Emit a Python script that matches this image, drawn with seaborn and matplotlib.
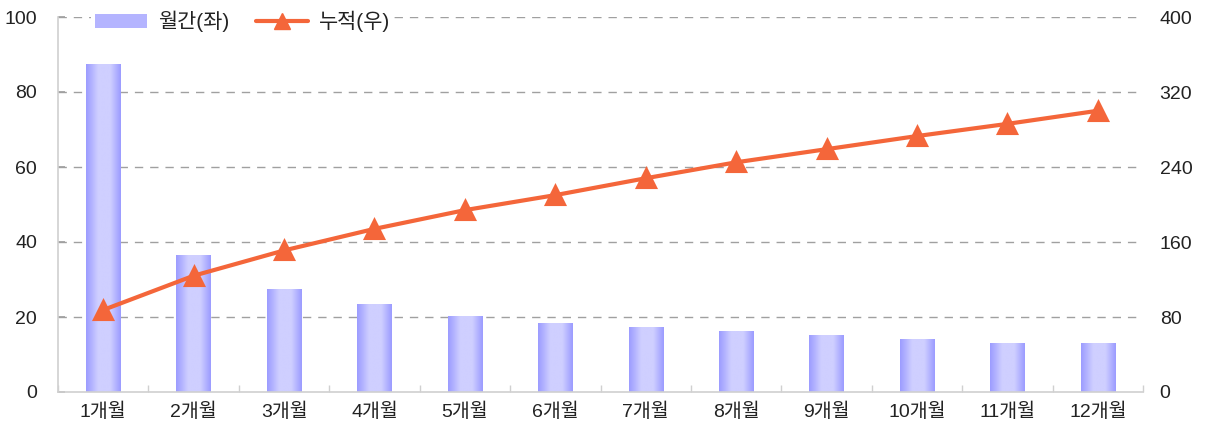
import numpy as np
import pandas as pd
import matplotlib
matplotlib.use("Agg")
import matplotlib.pyplot as plt
import seaborn as sns
from matplotlib.colors import LinearSegmentedColormap
from matplotlib.patches import Patch
from matplotlib.lines import Line2D

categories = ["1개월", "2개월", "3개월", "4개월", "5개월", "6개월",
              "7개월", "8개월", "9개월", "10개월", "11개월", "12개월"]
monthly = [87.5, 36.5, 27.5, 23.5, 20.3, 18.4, 17.3, 16.3, 15.2, 14.1, 13.1, 13.1]
cumulative = [87.5, 124, 151, 174, 194, 210, 228, 245, 259, 273, 286, 300]
left_ticks = [0, 20, 40, 60, 80, 100]
right_ticks = [0, 80, 160, 240, 320, 400]
legend_labels = ["월간(좌)", "누적(우)"]

sns.set_theme(style="white")
plt.rcParams['font.family'] = ['Liberation Sans', 'Noto Sans CJK KR', 'DejaVu Sans']

bar_dark = "#9c9cff"
bar_light = "#cfcfff"
line_color = "#f4663a"
grid_color = "#a0a0a0"
spine_color = "#d0d0d0"
text_color = "#222222"

fig = plt.figure(figsize=(12.05, 4.32), dpi=100)
ax = fig.add_axes([58/1205, 40/432, 1085/1205, 375/432])

df = pd.DataFrame({"cat": categories, "monthly": monthly, "cum": cumulative})
sns.barplot(data=df, x="cat", y="monthly", ax=ax, color=bar_light, width=0.38,
            saturation=1, order=categories)

# gradient fill for bars
cmap = LinearSegmentedColormap.from_list("g", [(0, bar_dark), (0.35, bar_light), (0.7, bar_light), (1.0, bar_dark)])
grad = np.linspace(0, 1, 64).reshape(1, -1)
for p in list(ax.patches):
    x0, y0 = p.get_x(), p.get_y()
    w, h = p.get_width(), p.get_height()
    p.set_edgecolor("none")
    im = ax.imshow(grad, cmap=cmap, aspect="auto", extent=[x0, x0 + w, y0, y0 + h],
                   zorder=2, interpolation="bilinear")
    im.set_clip_path(p)
ax.set_xlim(-0.5, len(categories) - 0.5)
ax.set_ylim(0, 100)

ax.set_yticks(left_ticks)
for v in left_ticks[1:]:
    ax.axhline(v, color=grid_color, lw=1, ls=(0, (6, 5)), zorder=1)

ax2 = ax.twinx()
sns.pointplot(data=df, x="cat", y="cum", ax=ax2, color=line_color, markers="^",
              linestyles="-", markersize=13, linewidth=3, order=categories)
ax2.set_ylim(0, 400)
ax2.set_xlim(-0.5, len(categories) - 0.5)
ax2.set_yticks(right_ticks)

for a in (ax, ax2):
    a.set_xlabel("")
    a.set_ylabel("")
    for s in ["top", "right"]:
        a.spines[s].set_visible(False)
ax2.spines["left"].set_visible(False)
ax2.spines["bottom"].set_visible(False)
ax.spines["left"].set_color(spine_color)
ax.spines["bottom"].set_color(spine_color)
ax.spines["left"].set_linewidth(1.2)
ax.spines["bottom"].set_linewidth(1.2)

ax.tick_params(axis="y", direction="in", length=5, color=grid_color, pad=15,
               labelsize=14, labelcolor=text_color, left=True)
ax.tick_params(axis="x", length=0, pad=8, labelsize=14, labelcolor=text_color)
ax.set_xticks(np.arange(-0.5, len(categories), 1.0), minor=True)
ax.tick_params(axis="x", which="minor", direction="in", length=5, color=spine_color, bottom=True)
ax2.tick_params(axis="y", length=0, pad=12, labelsize=14, labelcolor=text_color, right=False)

ax.set_zorder(0)
ax2.set_zorder(1)

handles = [Patch(facecolor="#b4b4ff", edgecolor="none"),
           Line2D([0], [0], color=line_color, lw=3, marker="^", markersize=11)]
leg = ax2.legend(handles, legend_labels, loc="upper left", bbox_to_anchor=(0.021, 1.055),
                 ncol=2, frameon=True, fontsize=15, handlelength=2.5, handleheight=0.7,
                 columnspacing=1.3, handletextpad=0.5, borderpad=0.2)
leg.get_frame().set_facecolor("white")
leg.get_frame().set_edgecolor("none")
leg.get_frame().set_alpha(1)
for t in leg.get_texts():
    t.set_color(text_color)

fig.savefig("out.png", dpi=100)
